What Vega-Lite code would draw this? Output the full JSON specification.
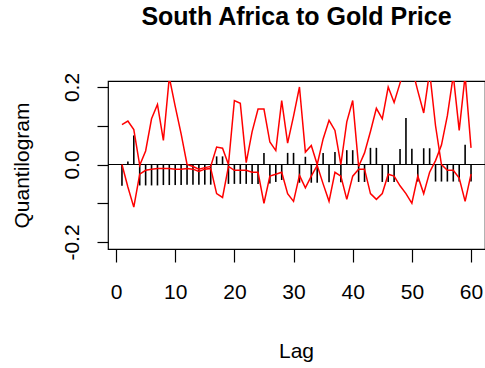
{
  "$schema": "https://vega.github.io/schema/vega-lite/v6.json",
  "width": 377,
  "height": 168,
  "autosize": {"type": "none"},
  "padding": {"left": 108, "top": 81, "right": 0, "bottom": 119},
  "background": "white",
  "title": {"text": "South Africa to Gold Price", "font": "Liberation Sans", "fontSize": 25, "fontWeight": "bold", "color": "black", "anchor": "middle", "frame": "group", "baseline": "alphabetic", "offset": 47, "dy": 25},
  "config": {
    "view": {"stroke": "black", "strokeWidth": 1.2},
    "axis": {"labelFont": "Liberation Sans", "titleFont": "Liberation Sans", "labelColor": "black", "titleColor": "black", "tickColor": "black", "grid": false, "domain": false, "titleFontWeight": "normal", "labelFlush": false, "labelOverlap": false}
  },
  "data": {"values": [
    {"lag": 1, "q": -0.055, "a": 0.103, "b": 0.0},
    {"lag": 2, "q": 0.008, "a": 0.112, "b": -0.058},
    {"lag": 3, "q": 0.075, "a": 0.09, "b": -0.11},
    {"lag": 4, "q": -0.054, "a": -0.002, "b": -0.025},
    {"lag": 5, "q": -0.054, "a": 0.035, "b": -0.015},
    {"lag": 6, "q": -0.054, "a": 0.118, "b": -0.012},
    {"lag": 7, "q": -0.054, "a": 0.155, "b": -0.01},
    {"lag": 8, "q": -0.053, "a": 0.062, "b": -0.01},
    {"lag": 9, "q": -0.053, "a": 0.225, "b": -0.01},
    {"lag": 10, "q": -0.053, "a": 0.15, "b": -0.012},
    {"lag": 11, "q": -0.053, "a": 0.079, "b": -0.012},
    {"lag": 12, "q": -0.052, "a": 0.0, "b": -0.01},
    {"lag": 13, "q": -0.052, "a": -0.005, "b": -0.012},
    {"lag": 14, "q": -0.052, "a": -0.012, "b": -0.018},
    {"lag": 15, "q": -0.052, "a": -0.008, "b": -0.012},
    {"lag": 16, "q": -0.052, "a": -0.005, "b": -0.01},
    {"lag": 17, "q": 0.021, "a": 0.045, "b": -0.075},
    {"lag": 18, "q": 0.021, "a": 0.042, "b": -0.085},
    {"lag": 19, "q": -0.05, "a": 0.0, "b": -0.005},
    {"lag": 20, "q": -0.05, "a": 0.165, "b": -0.015},
    {"lag": 21, "q": -0.05, "a": 0.158, "b": -0.015},
    {"lag": 22, "q": -0.05, "a": 0.005, "b": -0.015},
    {"lag": 23, "q": -0.05, "a": 0.085, "b": -0.02},
    {"lag": 24, "q": -0.05, "a": 0.143, "b": -0.02},
    {"lag": 25, "q": 0.03, "a": 0.143, "b": -0.1},
    {"lag": 26, "q": -0.049, "a": 0.058, "b": -0.03},
    {"lag": 27, "q": -0.045, "a": 0.036, "b": -0.025},
    {"lag": 28, "q": -0.04, "a": 0.165, "b": -0.02},
    {"lag": 29, "q": 0.03, "a": 0.055, "b": -0.075},
    {"lag": 30, "q": 0.03, "a": 0.125, "b": -0.095},
    {"lag": 31, "q": -0.047, "a": 0.2, "b": -0.028},
    {"lag": 32, "q": 0.02, "a": 0.032, "b": -0.06},
    {"lag": 33, "q": -0.047, "a": 0.049, "b": -0.03},
    {"lag": 34, "q": -0.047, "a": 0.0, "b": -0.002},
    {"lag": 35, "q": 0.03, "a": 0.066, "b": -0.05},
    {"lag": 36, "q": -0.046, "a": 0.114, "b": -0.095},
    {"lag": 37, "q": 0.032, "a": 0.088, "b": -0.02},
    {"lag": 38, "q": -0.046, "a": 0.0, "b": -0.03},
    {"lag": 39, "q": 0.037, "a": 0.11, "b": -0.09},
    {"lag": 40, "q": 0.037, "a": 0.165, "b": -0.03},
    {"lag": 41, "q": -0.045, "a": -0.005, "b": -0.012},
    {"lag": 42, "q": -0.045, "a": 0.03, "b": -0.012},
    {"lag": 43, "q": 0.043, "a": 0.085, "b": -0.075},
    {"lag": 44, "q": 0.043, "a": 0.145, "b": -0.09},
    {"lag": 45, "q": -0.045, "a": 0.118, "b": -0.075},
    {"lag": 46, "q": -0.045, "a": 0.2, "b": -0.025},
    {"lag": 47, "q": -0.045, "a": 0.16, "b": -0.03},
    {"lag": 48, "q": 0.04, "a": 0.21, "b": -0.055},
    {"lag": 49, "q": 0.12, "a": 0.26, "b": -0.075},
    {"lag": 50, "q": 0.041, "a": 0.25, "b": -0.1},
    {"lag": 51, "q": -0.044, "a": 0.19, "b": -0.03},
    {"lag": 52, "q": 0.042, "a": 0.133, "b": -0.075},
    {"lag": 53, "q": 0.042, "a": 0.24, "b": -0.02},
    {"lag": 54, "q": -0.044, "a": 0.1, "b": 0.01},
    {"lag": 55, "q": -0.044, "a": 0.0, "b": 0.05},
    {"lag": 56, "q": -0.044, "a": -0.015, "b": 0.126},
    {"lag": 57, "q": -0.044, "a": -0.015, "b": 0.23},
    {"lag": 58, "q": -0.044, "a": -0.035, "b": 0.088},
    {"lag": 59, "q": 0.051, "a": -0.095, "b": 0.23},
    {"lag": 60, "q": -0.044, "a": -0.025, "b": 0.043}
  ]},
  "encoding": {
    "x": {"field": "lag", "type": "quantitative", "scale": {"domain": [-1.36, 62.36], "nice": false, "zero": false},
      "axis": {"values": [0, 10, 20, 30, 40, 50, 60], "tickSize": 13, "tickWidth": 1.2, "labelFontSize": 21, "labelPadding": 19, "title": "Lag", "titleFontSize": 21, "titleX": 188, "titleY": 108, "titleBaseline": "alphabetic", "titleAlign": "center"}}
  },
  "layer": [
    {"mark": {"type": "rule", "color": "black", "strokeWidth": 1.6},
     "encoding": {"y": {"field": "q", "type": "quantitative", "title": "Quantilogram", "scale": {"domain": [-0.218, 0.2155], "nice": false, "zero": false},
       "axis": {"values": [-0.2, -0.1, 0, 0.1, 0.2], "tickSize": 11, "tickWidth": 1.2, "labelAngle": 270, "labelAlign": "center", "labelBaseline": "middle", "labelPadding": 25, "labelFontSize": 21,
         "labelExpr": "abs(datum.value - 0.2) < 1e-6 ? '0.2' : abs(datum.value) < 1e-6 ? '0.0' : abs(datum.value + 0.2) < 1e-6 ? '-0.2' : ''",
         "title": "Quantilogram", "titleFontSize": 21, "titleX": -86, "titleY": 84, "titleAngle": 270, "titleAlign": "center", "titleBaseline": "middle"}},
       "y2": {"datum": 0}}},
    {"mark": {"type": "rule", "color": "black", "strokeWidth": 1},
     "encoding": {"y": {"datum": 0, "type": "quantitative", "title": "Quantilogram"}, "x": null}},
    {"mark": {"type": "line", "color": "#ff0000", "strokeWidth": 1.5, "clip": true},
     "encoding": {"y": {"field": "a", "type": "quantitative", "title": "Quantilogram"}}},
    {"mark": {"type": "line", "color": "#ff0000", "strokeWidth": 1.5, "clip": true},
     "encoding": {"y": {"field": "b", "type": "quantitative", "title": "Quantilogram"}}}
  ]
}
